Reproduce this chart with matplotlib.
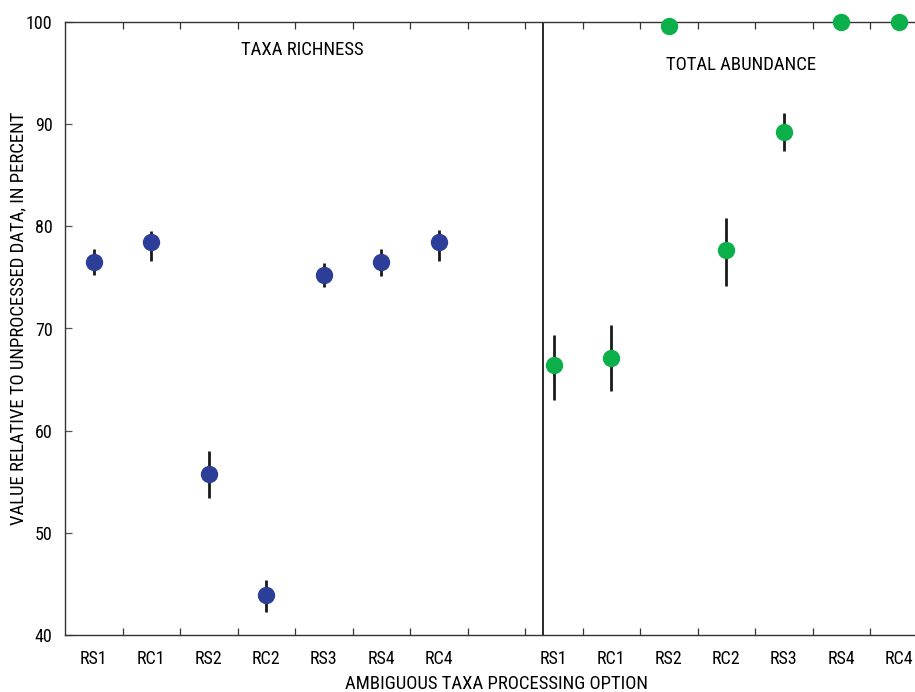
"""
Taxa richness and total abundance relative to unprocessed data,
for each ambiguous-taxa processing option.
"""

import matplotlib
matplotlib.use("Agg")
import matplotlib.pyplot as plt
from matplotlib import font_manager as fm
from matplotlib.ticker import FixedLocator, NullFormatter

# categories (same order in both panels)
options = ['RS1', 'RC1', 'RS2', 'RC2', 'RS3', 'RS4', 'RC4']

# taxa richness, percent of unprocessed data, with lower/upper bar ends
richness = [76.5, 78.5, 55.8, 43.9, 75.2, 76.5, 78.5]
richness_lo = [75.2, 76.6, 53.4, 42.3, 74.1, 75.1, 76.6]
richness_hi = [77.8, 79.5, 58.0, 45.4, 76.4, 77.8, 79.6]

# total abundance, percent of unprocessed data
abundance = [66.4, 67.1, 99.6, 77.7, 89.2, 100.0, 100.0]
abundance_lo = [63.0, 63.9, 99.6, 74.2, 87.4, 100.0, 100.0]
abundance_hi = [69.4, 70.3, 99.6, 80.8, 91.1, 100.0, 100.0]

BLUE = '#2c3e98'
GREEN = '#0cb04a'


def pick_font():
    """Prefer a condensed sans face if one is installed."""
    cond = [f for f in fm.fontManager.ttflist
            if f.stretch in ('condensed', 'semi-condensed',
                             'extra-condensed', 'ultra-condensed')
            and f.style == 'normal'
            and f.weight in (400, 'normal', 'regular')]
    for pref in ('Liberation Sans Narrow', 'Roboto Condensed',
                 'Noto Sans', 'Open Sans', 'Roboto', 'Lato', 'Inter'):
        for f in cond:
            if f.name == pref:
                return f.name, f.stretch, 1.0
    if cond:
        return cond[0].name, cond[0].stretch, 1.0
    return 'Liberation Sans', 'normal', 0.85


FONT, STRETCH, SCALE = pick_font()
plt.rcParams['font.family'] = [FONT, 'DejaVu Sans']
plt.rcParams['font.stretch'] = STRETCH
FS_TICK = 13 * SCALE
FS_TEXT = 13.5 * SCALE


def add_panel(ax, x0, vals, lo, hi, color):
    """Plot one group of points with error bars starting at slot x0."""
    xs = [x0 + i + 0.5 for i in range(len(vals))]
    for x, v, l, h in zip(xs, vals, lo, hi):
        if h > l:
            ax.plot([x, x], [l, h], color='#1a1a1a', lw=2.0,
                    solid_capstyle='butt', zorder=2)
    ax.plot(xs, vals, marker='o', markersize=11.5, color=color,
            linestyle='none', zorder=3, clip_on=False)
    return xs


fig = plt.figure(figsize=(9.15, 6.92), dpi=100)
ax = fig.add_axes([65/915, 1-635/692, 1-65/915, 613/692])

left_x = add_panel(ax, 0, richness, richness_lo, richness_hi, BLUE)
right_x = add_panel(ax, 8, abundance, abundance_lo, abundance_hi, GREEN)

# panel divider
ax.axvline(8.32, color='#1a1a1a', lw=1.3, zorder=1)

ax.set_xlim(0, 14.78)
ax.set_ylim(40, 100)

# major ticks: slot edges, inward on top and bottom, no labels
ax.xaxis.set_major_locator(FixedLocator(range(1, 15)))
ax.xaxis.set_major_formatter(NullFormatter())
ax.set_xticks(left_x + right_x, options + options, minor=True)
ax.tick_params(axis='x', which='major', direction='in', length=5,
               width=0.9, top=True, color='#333333')
ax.tick_params(axis='x', which='minor', length=0, pad=11,
               labelsize=FS_TICK)

ax.set_yticks(range(40, 101, 10))
ax.tick_params(axis='y', direction='in', length=5, width=0.9,
               pad=9, labelsize=FS_TICK, color='#555555')

for side in ('left', 'top', 'bottom'):
    ax.spines[side].set_linewidth(1.0)
    ax.spines[side].set_color('#333333')
ax.spines['right'].set_visible(False)

ylab = ax.set_ylabel('VALUE RELATIVE TO UNPROCESSED DATA, IN PERCENT',
                     fontsize=FS_TEXT, va='center')
ax.yaxis.set_label_coords(-47/850, (635-318)/613)
xlab = ax.set_xlabel('AMBIGUOUS TAXA PROCESSING OPTION',
                     fontsize=FS_TEXT, va='center')
ax.xaxis.set_label_coords((497-65)/850, -49/613)

ax.text(4.12, 97.26, 'TAXA RICHNESS', ha='center', va='center',
        fontsize=FS_TEXT)
ax.text(11.76, 95.8, 'TOTAL ABUNDANCE', ha='center', va='center',
        fontsize=FS_TEXT)

fig.savefig('out.png', dpi=100)
